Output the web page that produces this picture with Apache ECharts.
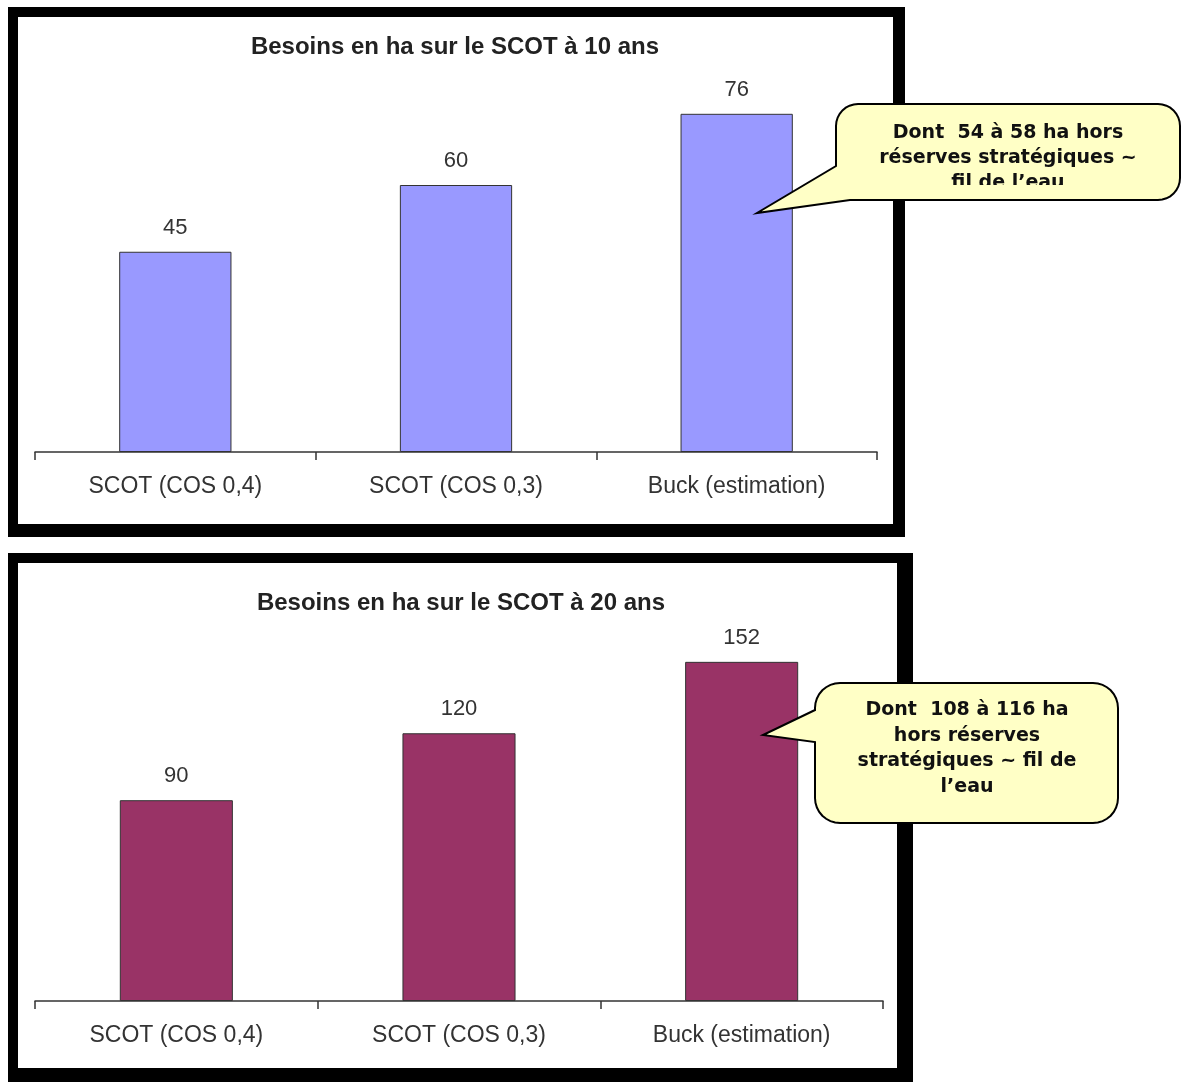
<!DOCTYPE html>
<html>
<head>
<meta charset="utf-8">
<script src="https://cdn.jsdelivr.net/npm/echarts@6/dist/echarts.min.js"></script>
<style>
  html, body { margin: 0; padding: 0; background: #fff; }
  #main { width: 1184px; height: 1082px; }
</style>
</head>
<body>
<div id="main"></div>
<script>
// categories shared by both charts
const categories = ['SCOT (COS 0,4)', 'SCOT (COS 0,3)', 'Buck (estimation)'];
// besoins en ha, 10 ans / 20 ans
const values10 = [45, 60, 76];
const values20 = [90, 120, 152];

const title10 = 'Besoins en ha sur le SCOT à 10 ans';
const title20 = 'Besoins en ha sur le SCOT à 20 ans';
const note10 = 'Dont  54 à 58 ha hors\nréserves stratégiques ~\nfil de l’eau';
const note20 = 'Dont  108 à 116 ha\nhors réserves\nstratégiques ~ fil de\nl’eau';

const labelFont = '"Liberation Sans", Arial, sans-serif';
const noteFont = 'bold 19px "DejaVu Sans", Verdana, sans-serif';
const noteFill = '#ffffc6';

// quarter arc points for the rounded callout boxes
function arc(cx, cy, r, a0, a1) {
  const pts = [];
  for (let i = 0; i <= 8; i++) {
    const a = (a0 + (a1 - a0) * i / 8) * Math.PI / 180;
    pts.push([cx + r * Math.cos(a), cy + r * Math.sin(a)]);
  }
  return pts;
}

// top callout: tail cuts the bottom-left corner
function callout10() {
  const x0 = 836, y0 = 104, x1 = 1180, y1 = 200, r = 22;
  return [].concat(
    arc(x0 + r, y0 + r, r, 180, 270),
    arc(x1 - r, y0 + r, r, 270, 360),
    arc(x1 - r, y1 - r, r, 0, 90),
    [[850, y1], [757, 213], [x0, 166]]
  );
}

// bottom callout: tail on the left side
function callout20() {
  const x0 = 815, y0 = 683, x1 = 1118, y1 = 823, r = 25;
  return [].concat(
    arc(x0 + r, y0 + r, r, 180, 270),
    arc(x1 - r, y0 + r, r, 270, 360),
    arc(x1 - r, y1 - r, r, 0, 90),
    arc(x0 + r, y1 - r, r, 90, 180),
    [[x0, 742], [763, 735], [x0, 710]]
  );
}

function xAxisFor(gridIndex) {
  return {
    type: 'category',
    gridIndex: gridIndex,
    data: categories,
    axisLine: { lineStyle: { color: '#333', width: 1.5 } },
    axisTick: { show: true, alignWithLabel: false, length: 8, lineStyle: { color: '#333', width: 1.5 } },
    axisLabel: { margin: 23, fontSize: 23, color: '#333', fontFamily: labelFont }
  };
}

function yAxisFor(gridIndex, max) {
  return {
    type: 'value', gridIndex: gridIndex, min: 0, max: max,
    show: false, splitLine: { show: false }
  };
}

function barSeries(idx, data, color) {
  return {
    type: 'bar',
    xAxisIndex: idx, yAxisIndex: idx,
    data: data,
    barWidth: '40%',
    itemStyle: { color: color, borderColor: '#333', borderWidth: 1 },
    label: {
      show: true, position: 'top', distance: 13,
      fontSize: 22, color: '#333', fontFamily: labelFont
    }
  };
}

const chart = echarts.init(document.getElementById('main'));
chart.setOption({
  animation: false,
  backgroundColor: '#fff',
  grid: [
    { left: 35, top: 96, width: 842, height: 356 },
    { left: 35, top: 644, width: 848, height: 357 }
  ],
  xAxis: [xAxisFor(0), xAxisFor(1)],
  yAxis: [yAxisFor(0, 80), yAxisFor(1, 160)],
  series: [
    barSeries(0, values10, '#9999ff'),
    barSeries(1, values20, '#993366')
  ],
  graphic: [
    // frames
    { type: 'rect', z: -5, shape: { x: 8, y: 7, width: 897, height: 530 }, style: { fill: '#000' } },
    { type: 'rect', z: -4, shape: { x: 18, y: 17, width: 875, height: 507 }, style: { fill: '#fff' } },
    { type: 'rect', z: -5, shape: { x: 8, y: 553, width: 905, height: 529 }, style: { fill: '#000' } },
    { type: 'rect', z: -4, shape: { x: 18, y: 563, width: 879, height: 505 }, style: { fill: '#fff' } },
    // titles
    { type: 'text', z: 10, style: { text: title10, x: 455, y: 47, align: 'center', verticalAlign: 'middle',
        font: 'bold 24px ' + labelFont, fill: '#222' } },
    { type: 'text', z: 10, style: { text: title20, x: 461, y: 603, align: 'center', verticalAlign: 'middle',
        font: 'bold 24px ' + labelFont, fill: '#222' } },
    // callout 10 ans (last line clipped like in the source)
    { type: 'polygon', z: 50, shape: { points: callout10() },
      style: { fill: noteFill, stroke: '#000', lineWidth: 2 } },
    { type: 'text', z: 51, style: { text: note10, x: 1008, y: 120.5, align: 'center', verticalAlign: 'top',
        lineHeight: 25, font: noteFont, fill: '#111' } },
    { type: 'rect', z: 52, shape: { x: 880, y: 185, width: 260, height: 13.5 }, style: { fill: noteFill } },
    // callout 20 ans
    { type: 'polygon', z: 50, shape: { points: callout20() },
      style: { fill: noteFill, stroke: '#000', lineWidth: 2 } },
    { type: 'text', z: 51, style: { text: note20, x: 967, y: 697.5, align: 'center', verticalAlign: 'top',
        lineHeight: 25.5, font: noteFont, fill: '#111' } }
  ]
});
</script>
</body>
</html>
